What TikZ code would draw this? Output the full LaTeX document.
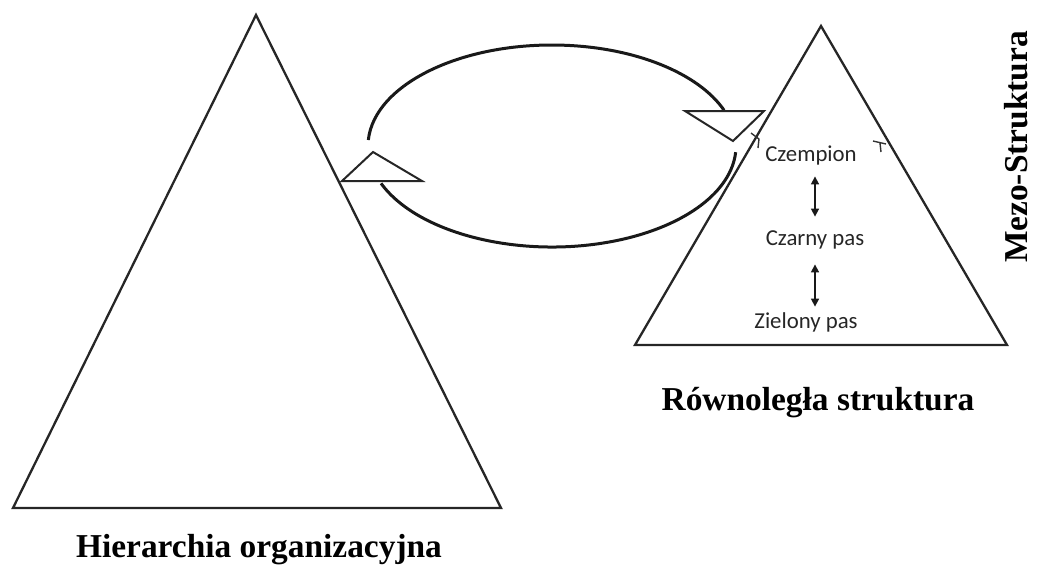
\documentclass[tikz,border=0pt]{standalone}
\usepackage{fontspec}
\setmainfont{Liberation Serif}
\newfontfamily\calibri{Carlito}
\usetikzlibrary{arrows.meta,calc}

\begin{document}
\begin{tikzpicture}[
  x=0.5pt, y=-0.5pt,
  pyramid/.style={draw=black!85, line width=1.15pt},
  cycleline/.style={draw=black!90, line width=1.5pt},
  pointer/.style={draw=black!85, fill=white, line width=1pt},
  tick/.style={draw=black!80, line width=0.7pt},
  level/.style={font=\calibri\fontsize{11.4}{13}\selectfont, text=black!85,
    anchor=base, inner sep=0pt, text height=0.7em, text depth=0.25em},
  caption/.style={font=\fontsize{16.7}{19}\selectfont\bfseries, anchor=base},
  updown/.style={<->, line width=0.8pt, black!90},
  >={Triangle[length=4pt, width=4pt]}
]
  \useasboundingbox (0,0) rectangle (1039,564);

  % hierarchy and parallel structure
  \draw[pyramid] (256,15) -- (501,508) -- (13,508) -- cycle;
  \draw[pyramid] (821,26) -- (1007,345) -- (635,345) -- cycle;

  % loop between both
  \draw[cycleline] (552,146) ++(183.4:184 and 101)
    arc[start angle=183.4, end angle=339.3, x radius=184, y radius=101];
  \draw[cycleline] (552,146) ++(158.3:184 and 101)
    arc[start angle=158.3, end angle=3.5, x radius=184, y radius=101];
  \draw[pointer] (342,181) -- (373,152) -- (422,181) -- cycle;
  \draw[pointer] (685,111) -- (764,111) -- (733,141) -- cycle;

  \draw[tick] (751,133) -- (759,139) -- (758,148);
  \draw[tick] (873,141) -- (886,144) (880,143) -- (881,152);

  \node[level] (czempion) at (811,161) {Czempion};
  \node[level] (czarny) at (815,245) {Czarny pas};
  \node[level] (zielony) at (806,328) {Zielony pas};

  \draw[updown, shorten <=5pt, shorten >=7pt]
    (czarny.north |- czempion.south) -- (czarny.north);
  \draw[updown, shorten <=7pt, shorten >=3.5pt]
    (czarny.south) -- (czarny.south |- zielony.north);

  \node[caption] (hierarchia) at (259,557) {Hierarchia organizacyjna};
  \node[caption] (rownolegla) at (818,410) {Równoległa struktura};
  \node[caption, rotate=90] (mezo) at (1027,147) {Mezo-Struktura};
\end{tikzpicture}
\end{document}
